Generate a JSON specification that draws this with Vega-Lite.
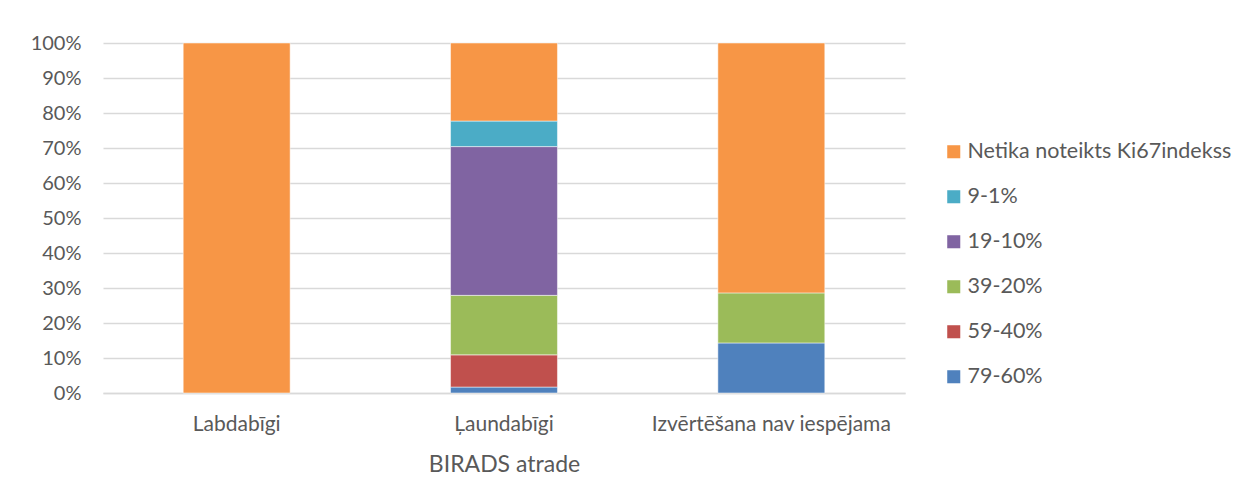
{
  "$schema": "https://vega.github.io/schema/vega-lite/v6.json",
  "width": 802,
  "height": 350,
  "autosize": {"type": "none"},
  "padding": {"left": 103, "top": 43, "right": 344, "bottom": 110},
  "background": "white",
  "data": {
    "values": [
      {"cat": "Labdabīgi", "grp": "Netika noteikts Ki67indekss", "rank": 6, "pct": 100},
      {"cat": "Ļaundabīgi", "grp": "79-60%", "rank": 1, "pct": 1.7},
      {"cat": "Ļaundabīgi", "grp": "59-40%", "rank": 2, "pct": 9.2},
      {"cat": "Ļaundabīgi", "grp": "39-20%", "rank": 3, "pct": 17.0},
      {"cat": "Ļaundabīgi", "grp": "19-10%", "rank": 4, "pct": 42.5},
      {"cat": "Ļaundabīgi", "grp": "9-1%", "rank": 5, "pct": 7.3},
      {"cat": "Ļaundabīgi", "grp": "Netika noteikts Ki67indekss", "rank": 6, "pct": 22.3},
      {"cat": "Izvērtēšana nav iespējama", "grp": "79-60%", "rank": 1, "pct": 14.3},
      {"cat": "Izvērtēšana nav iespējama", "grp": "39-20%", "rank": 3, "pct": 14.3},
      {"cat": "Izvērtēšana nav iespējama", "grp": "Netika noteikts Ki67indekss", "rank": 6, "pct": 71.4}
    ]
  },
  "mark": {"type": "bar", "stroke": "white", "strokeWidth": 0.5},
  "encoding": {
    "x": {
      "field": "cat",
      "type": "nominal",
      "sort": ["Labdabīgi", "Ļaundabīgi", "Izvērtēšana nav iespējama"],
      "scale": {"paddingInner": 0.6, "paddingOuter": 0.3},
      "axis": {
        "title": "BIRADS atrade",
        "labelAngle": 0,
        "ticks": false,
        "labelPadding": 20,
        "titlePadding": 19,
        "domainColor": "#D9D9D9",
        "domainWidth": 1.5,
        "labelFontSize": 21,
        "titleFontSize": 23,
        "titleFontWeight": "normal",
        "labelLimit": 0
      }
    },
    "y": {
      "field": "pct",
      "type": "quantitative",
      "stack": "normalize",
      "scale": {"domain": [0, 1], "nice": false},
      "axis": {
        "title": null,
        "format": ".0%",
        "values": [0, 0.1, 0.2, 0.3, 0.4, 0.5, 0.6, 0.7, 0.8, 0.9, 1],
        "ticks": false,
        "domain": false,
        "labelPadding": 22,
        "gridColor": "#D9D9D9",
        "gridWidth": 1.5,
        "labelFontSize": 20
      }
    },
    "color": {
      "field": "grp",
      "type": "nominal",
      "scale": {
        "domain": ["Netika noteikts Ki67indekss", "9-1%", "19-10%", "39-20%", "59-40%", "79-60%"],
        "range": ["#F79646", "#4BACC6", "#8064A2", "#9BBB59", "#C0504D", "#4F81BD"]
      },
      "legend": {
        "title": null,
        "orient": "none",
        "legendX": 840,
        "legendY": 98,
        "symbolType": "square",
        "symbolSize": 170,
        "symbolStrokeWidth": 0,
        "symbolOpacity": 1,
        "labelFontSize": 21.5,
        "labelOffset": 3,
        "labelLimit": 0,
        "rowPadding": 22
      }
    },
    "order": {"field": "rank", "type": "quantitative"}
  },
  "config": {
    "font": "Lato",
    "view": {"stroke": null},
    "axis": {"labelColor": "#595959", "titleColor": "#595959", "labelFont": "Lato", "titleFont": "Lato"},
    "legend": {"labelColor": "#595959", "labelFont": "Lato"}
  }
}
